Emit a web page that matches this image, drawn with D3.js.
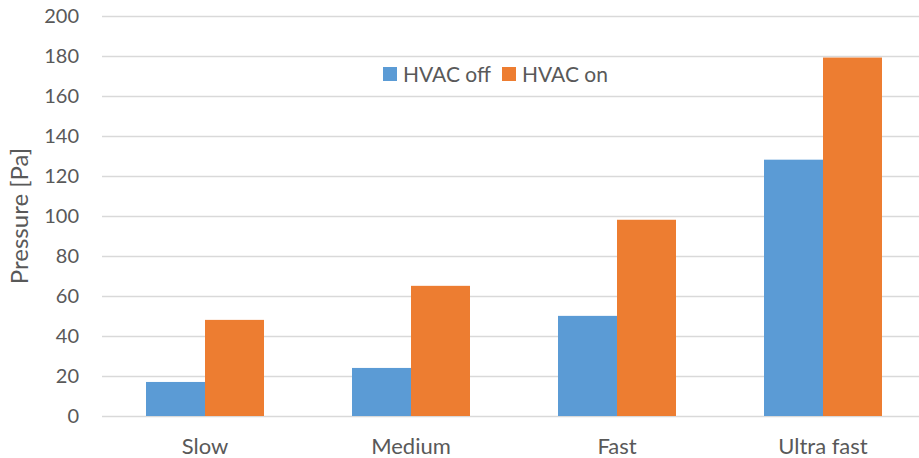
<!DOCTYPE html>
<html lang="en">
<head>
    <meta charset="UTF-8">
    <title>Pressure</title>
    <script src="https://cdn.jsdelivr.net/npm/d3@7"></script>
    <style>
        body { margin: 0; background: #fff; }
        text { font-family: Lato, "Open Sans", sans-serif; fill: #595959; }
    </style>
</head>
<body>
<script>
    const categories = ["Slow", "Medium", "Fast", "Ultra fast"];
    const seriesNames = ["HVAC off", "HVAC on"];
    const hvacOff = [17, 24, 50, 128];
    const hvacOn = [48, 65, 98, 179];
    const yTicks = [0, 20, 40, 60, 80, 100, 120, 140, 160, 180, 200];
    const colors = ["#5B9BD5", "#ED7D31"];

    const dim = {width: 919, height: 458, left: 102, right: 926, top: 15.5, bottom: 416};

    const svg = d3.select("body").append("svg")
        .attr("width", dim.width)
        .attr("height", dim.height);

    const x = d3.scaleBand().domain(categories)
        .range([dim.left, dim.right])
        .paddingInner(88 / 206)
        .paddingOuter(44 / 206);
    const x1 = d3.scaleBand().domain(seriesNames).range([0, x.bandwidth()]);
    const y = d3.scaleLinear().domain([0, 200]).range([dim.bottom, dim.top]);

    // gridlines
    svg.append("g").selectAll("line")
        .data(yTicks)
        .join("line")
        .attr("x1", dim.left)
        .attr("x2", dim.right)
        .attr("y1", d => Math.round(y(d)) + 0.5)
        .attr("y2", d => Math.round(y(d)) + 0.5)
        .style("stroke", "#D9D9D9")
        .style("stroke-width", 1.3);

    // y tick labels
    svg.append("g").selectAll("text")
        .data(yTicks)
        .join("text")
        .attr("x", 79)
        .attr("y", d => y(d))
        .attr("dy", "0.36em")
        .attr("text-anchor", "end")
        .style("font-size", "20px")
        .text(d => d);

    // bars
    const rows = categories.map((c, i) => ({cat: c, vals: [hvacOff[i], hvacOn[i]]}));
    svg.append("g").selectAll("g")
        .data(rows)
        .join("g")
        .attr("transform", d => `translate(${x(d.cat)},0)`)
        .selectAll("rect")
        .data(d => d.vals.map((v, j) => ({name: seriesNames[j], v, j})))
        .join("rect")
        .attr("x", d => x1(d.name))
        .attr("width", x1.bandwidth())
        .attr("y", d => y(d.v))
        .attr("height", d => y(0) - y(d.v))
        .style("fill", d => colors[d.j]);

    // x labels
    svg.append("g").selectAll("text")
        .data(categories)
        .join("text")
        .attr("x", d => x(d) + x.bandwidth() / 2)
        .attr("y", 454)
        .attr("text-anchor", "middle")
        .style("font-size", "22px")
        .text(d => d);

    // y title
    svg.append("text")
        .attr("transform", "translate(28,216) rotate(-90)")
        .attr("text-anchor", "middle")
        .style("font-size", "24px")
        .text("Pressure [Pa]");

    // legend
    const legendX = [383, 502];
    const legend = svg.append("g").selectAll("g")
        .data(seriesNames)
        .join("g")
        .attr("transform", (d, i) => `translate(${legendX[i]},67)`);
    legend.append("rect")
        .attr("width", 14)
        .attr("height", 14)
        .style("fill", (d, i) => colors[i]);
    legend.append("text")
        .attr("x", 20)
        .attr("y", 7)
        .attr("dy", "0.36em")
        .style("font-size", "21px")
        .text(d => d);
</script>
</body>
</html>
